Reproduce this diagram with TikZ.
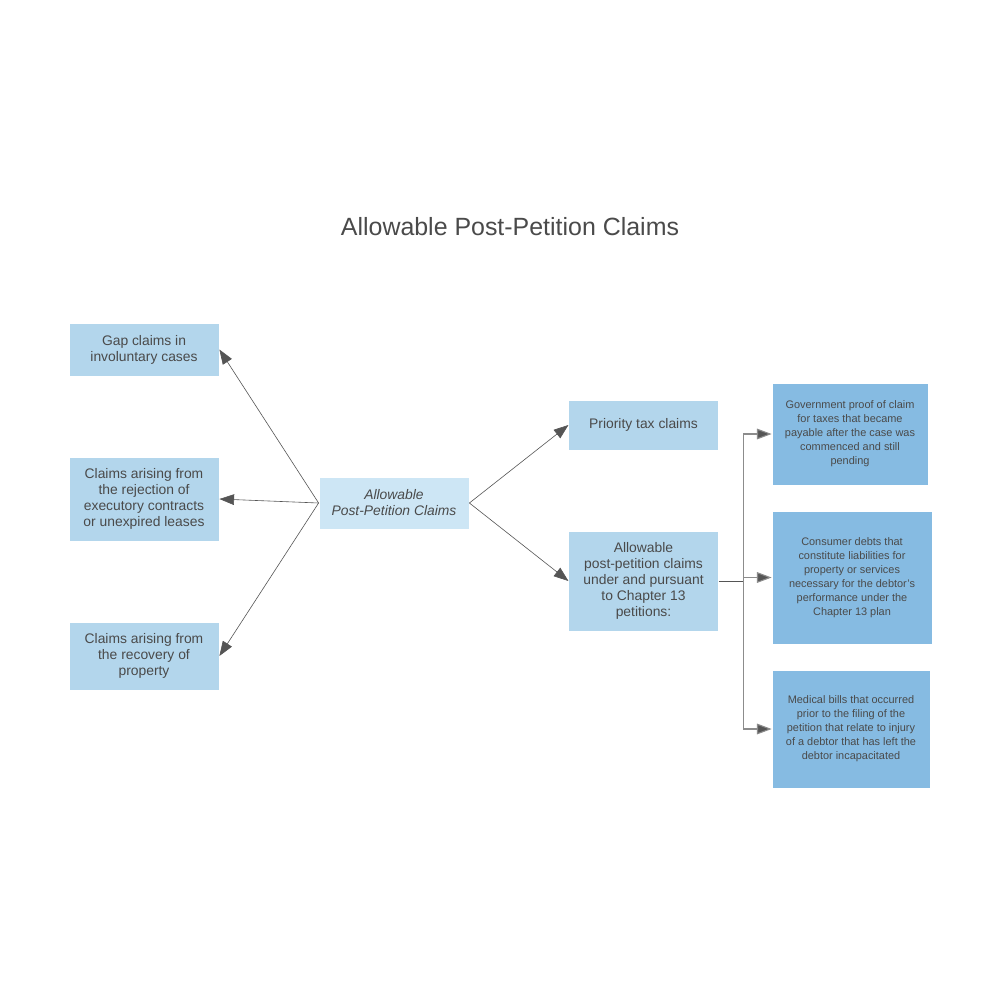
\documentclass[tikz,border=0pt]{standalone}
\usepackage{fontspec}
\setmainfont{Liberation Sans}
\usetikzlibrary{arrows.meta}
\definecolor{boxA}{HTML}{B3D6EC}
\definecolor{boxC}{HTML}{CDE6F5}
\definecolor{boxD}{HTML}{86BBE2}
\definecolor{txt}{HTML}{4A4A4A}
\definecolor{lnk}{HTML}{555555}
\definecolor{elb}{HTML}{8C8C8C}
\tikzset{
  px/.style={x=0.75pt,y=-0.75pt},
  card/.style={draw=white, line width=0.6pt, text=txt, align=center, inner sep=0pt, font=\fontsize{10.4pt}{12pt}\selectfont},
  cardA/.style={card, fill=boxA},
  cardC/.style={card, fill=boxC, font=\fontsize{10.4pt}{12pt}\selectfont\itshape},
  cardD/.style={card, fill=boxD, font=\fontsize{8.2pt}{10.5pt}\selectfont},
  link/.style={draw=lnk, line width=0.45pt, -{Triangle[length=11pt,width=8pt]}},
  elbow/.style={draw=elb, line width=0.8pt, -{Triangle[length=11pt,width=8pt,fill=lnk]}},
}
\begin{document}
\begin{tikzpicture}[px]
\useasboundingbox (0,0) rectangle (1000,1000);
\fill[white] (0,0) rectangle (1000,1000);
\node[text=txt, font=\fontsize{18.7pt}{22pt}\selectfont] (title) at (510,227) {Allowable Post-Petition Claims};

\node[cardA, minimum width=112.5pt, minimum height=39.75pt] (gap) at (144,349.5) {Gap claims in\\involuntary cases};
\node[cardA, minimum width=112.5pt, minimum height=63pt] (rej) at (144,499) {Claims arising from\\the rejection of\\executory contracts\\or unexpired leases};
\node[cardA, minimum width=112.5pt, minimum height=51pt] (rec) at (144,656) {Claims arising from\\the recovery of\\property};
\node[cardC, minimum width=112.5pt, minimum height=39pt] (ctr) at (394,503) {Allowable\\Post-Petition Claims};
\node[cardA, minimum width=112pt, minimum height=37.5pt] (pri) at (643.5,425) {Priority tax claims};
\node[cardA, minimum width=112pt, minimum height=75pt] (ch13) at (643.5,581) {Allowable\\post-petition claims\\under and pursuant\\to Chapter 13\\petitions:};
\node[cardD, minimum width=117pt, minimum height=76.5pt] (gov) at (850,434) {Government proof of claim\\for taxes that became\\payable after the case was\\commenced and still\\pending};
\node[cardD, minimum width=120pt, minimum height=99.75pt] (con) at (852,577.5) {Consumer debts that\\constitute liabilities for\\property or services\\necessary for the debtor's\\performance under the\\Chapter 13 plan};
\node[cardD, minimum width=118.5pt, minimum height=88.5pt] (med) at (851,729) {Medical bills that occurred\\prior to the filing of the\\petition that relate to injury\\of a debtor that has left the\\debtor incapacitated};

\draw[link] (ctr.west) -- (gap.east);
\draw[link] (ctr.west) -- (rej.east);
\draw[link] (ctr.west) -- (rec.east);
\draw[link] (ctr.east) -- (pri.west);
\draw[link] (ctr.east) -- (ch13.west);

\coordinate (trunk) at (743.5,581);
\draw[draw=lnk, line width=0.6pt] (ch13.east) -- (trunk);
\draw[elbow] (trunk) |- (gov.west);
\draw[elbow] (trunk |- con.west) -- (con.west);
\draw[elbow] (trunk) |- (med.west);
\end{tikzpicture}
\end{document}
